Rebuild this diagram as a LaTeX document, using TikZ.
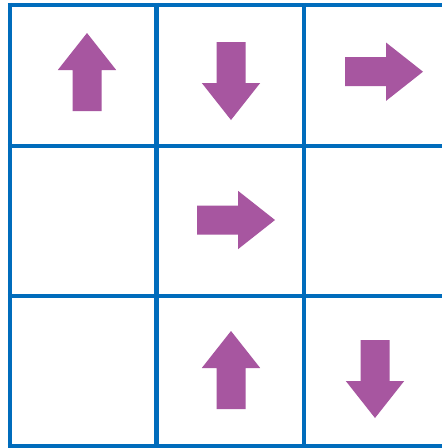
\documentclass[tikz,border=0pt]{standalone}
\definecolor{gridblue}{RGB}{0,108,188}
\definecolor{arrowpurple}{RGB}{167,86,160}
\tikzset{
  gridline/.style={draw=gridblue, line width=4.3pt},
  blockarrow/.style={fill=arrowpurple, draw=none},
  pics/arr/.style={code={
    \fill[blockarrow] (-39,-14.5) -- (2,-14.5) -- (2,-29.2) -- (39,0) -- (2,29.2) -- (2,14.5) -- (-39,14.5) -- cycle;
  }}
}
\begin{document}
\begin{tikzpicture}[x=1pt,y=-1pt]
\useasboundingbox (0,0) rectangle (442,448);
\clip (0,0) rectangle (442,448);
\fill[white] (0,0) rectangle (442,448);
% grid
\foreach \yy in {5,146,296,446}
  \draw[gridline] (7.85,\yy) -- (460,\yy);
\foreach \xx in {10,156.5,304}
  \draw[gridline] (\xx,2.85) -- (\xx,448.15);
% arrows
\pic[rotate=90]  at (87,72)   {arr};
\pic[rotate=-90] at (231,81)  {arr};
\pic             at (384,71.7) {arr};
\pic             at (236,220) {arr};
\pic[rotate=90]  at (231,370) {arr};
\pic[rotate=-90] at (375,379) {arr};
\end{tikzpicture}
\end{document}
